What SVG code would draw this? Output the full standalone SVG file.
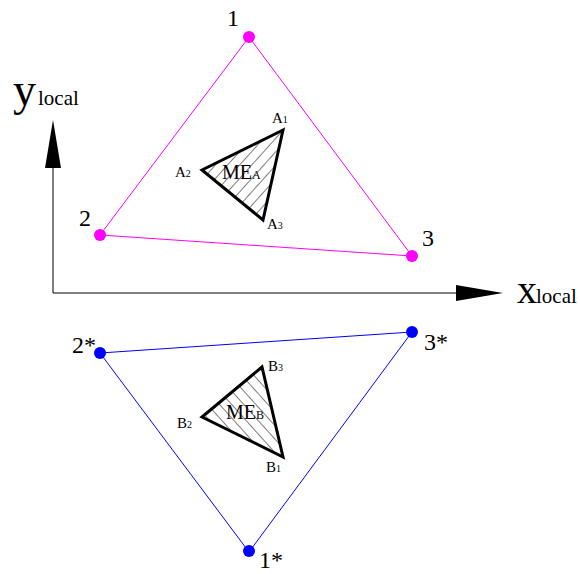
<svg xmlns="http://www.w3.org/2000/svg" width="580" height="574" viewBox="0 0 580 574" font-family="'Liberation Serif','Times New Roman',serif">
<style>
text{font-family:"Liberation Serif","Times New Roman",serif;fill:#000}
.num{font-size:24px}
.lbl{font-size:15px}
.sub{font-size:10px}
.axis{stroke:#000;stroke-width:1;fill:none}
.pink{stroke:#ff00ff;stroke-width:1;fill:none}
.blue{stroke:#0000ff;stroke-width:1;fill:none}
.me{stroke:#000;stroke-width:3;stroke-linejoin:miter;fill:none}
.hatch{stroke:#000;stroke-width:1}
</style>
<defs>
<pattern id="hA" patternUnits="userSpaceOnUse" width="9" height="9" patternTransform="rotate(42)">
<line x1="0" y1="0" x2="0" y2="9" class="hatch"/>
</pattern>
<pattern id="hB" patternUnits="userSpaceOnUse" width="9" height="9" patternTransform="rotate(-42)">
<line x1="0" y1="0" x2="0" y2="9" class="hatch"/>
</pattern>
</defs>
<g id="connectors">
<polygon class="pink" points="249,37 100,235 412,256"/>
<polygon class="blue" points="100,353 412,332 249,552"/>
</g>
<g id="axes">
<polyline class="axis" points="53,168 53,293 456,293"/>
<polygon points="53,120 45,168 61,168" fill="#000"/>
<polygon points="503,293 456,285 456,301" fill="#000"/>
<text x="13" y="105" style="font-size:46px">y</text>
<text x="38" y="105" style="font-size:21px">local</text>
<text x="517" y="303" style="font-size:40px">x</text>
<text x="536" y="303" style="font-size:21px">local</text>
</g>
<g id="node-1"><circle cx="249" cy="37" r="6" fill="#ff00ff"/><text class="num" x="227" y="26">1</text></g>
<g id="node-2"><circle cx="100" cy="235" r="6" fill="#ff00ff"/><text class="num" x="79" y="226">2</text></g>
<g id="node-3"><circle cx="412" cy="256" r="6" fill="#ff00ff"/><text class="num" x="422" y="246">3</text></g>
<g id="node-2s"><circle cx="100" cy="353" r="6" fill="#0000ff"/><text class="num" x="72" y="353">2*</text></g>
<g id="node-3s"><circle cx="412" cy="332" r="6" fill="#0000ff"/><text class="num" x="424" y="350">3*</text></g>
<g id="node-1s"><circle cx="249" cy="551" r="6" fill="#0000ff"/><text class="num" x="259" y="568">1*</text></g>
<g id="ME-A">
<polygon points="283,130 202,170 263,220" fill="url(#hA)" stroke="none"/>
<polygon class="me" points="283,130 202,170 263,220"/>
<text class="lbl" x="272" y="123">A<tspan class="sub">1</tspan></text>
<text class="lbl" x="175" y="177">A<tspan class="sub">2</tspan></text>
<text class="lbl" x="267" y="229">A<tspan class="sub">3</tspan></text>
<text x="222" y="179" style="font-size:20px">ME<tspan style="font-size:12px">A</tspan></text>
</g>
<g id="ME-B">
<polygon points="262,367 202,417 283,457" fill="url(#hB)" stroke="none"/>
<polygon class="me" points="262,367 202,417 283,457"/>
<text class="lbl" x="268" y="371">B<tspan class="sub">3</tspan></text>
<text class="lbl" x="177" y="428">B<tspan class="sub">2</tspan></text>
<text class="lbl" x="266" y="472">B<tspan class="sub">1</tspan></text>
<text x="226" y="419" style="font-size:20px">ME<tspan style="font-size:12px">B</tspan></text>
</g>
</svg>
